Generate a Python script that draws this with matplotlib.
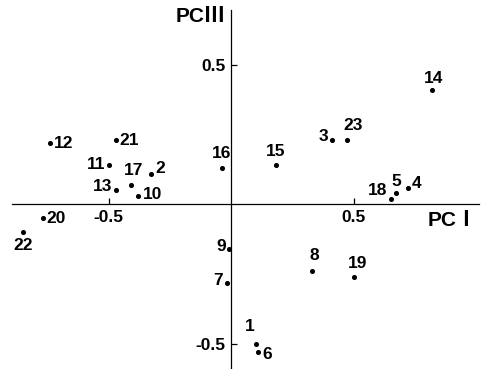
import matplotlib
matplotlib.use("Agg")
import matplotlib.pyplot as plt

plt.rcParams['font.family'] = ['Liberation Sans Narrow', 'Liberation Sans', 'Noto Sans CJK JP', 'DejaVu Sans']

# sample scores on PC I / PC III
labels = ['1', '2', '3', '4', '5', '6', '7', '8', '9', '10', '11', '12',
          '13', '14', '15', '16', '17', '18', '19', '20', '21', '22', '23']
pc1 = [0.10, -0.33, 0.41, 0.72, 0.67, 0.11, -0.02, 0.33, -0.01, -0.38, -0.50, -0.74,
       -0.47, 0.82, 0.18, -0.04, -0.41, 0.65, 0.50, -0.77, -0.47, -0.85, 0.47]
pc3 = [-0.50, 0.11, 0.23, 0.06, 0.04, -0.53, -0.28, -0.24, -0.16, 0.03, 0.14, 0.22,
       0.05, 0.41, 0.14, 0.13, 0.07, 0.02, -0.26, -0.05, 0.23, -0.10, 0.23]

# label placement: (dx px, dy px, ha)
place = {
    '1': (-6, 17, 'center'), '2': (5, 5, 'left'), '3': (-4, 4, 'right'),
    '4': (4, 4, 'left'), '5': (1, 12, 'center'), '6': (4, -2, 'left'),
    '7': (-4, 2, 'right'), '8': (2, 16, 'center'), '9': (-3, 3, 'right'),
    '10': (5, 2, 'left'), '11': (-3, 1, 'right'), '12': (4, 0, 'left'),
    '13': (-4, 4, 'right'), '14': (1, 12, 'center'), '15': (0, 14, 'center'),
    '16': (0, 15, 'center'), '17': (3, 14, 'center'), '18': (-3, 8, 'right'),
    '19': (4, 13, 'center'), '20': (4, 0, 'left'), '21': (3, 0, 'left'),
    '22': (0, -13, 'center'), '23': (6, 15, 'center'),
}

fig = plt.figure(figsize=(4.85, 3.69), dpi=100)
ax = fig.add_axes([12 / 485, 0, 467 / 485, 359 / 369])

ax.scatter(pc1, pc3, s=7, color='black', zorder=3)
for lab, x, y in zip(labels, pc1, pc3):
    dx, dy, ha = place[lab]
    ax.annotate(lab, (x, y), xytext=(dx * 0.72, dy * 0.72), textcoords='offset points',
                ha=ha, va='center', fontsize=12.5, fontweight='bold')

ax.set_xlim(-0.895, 1.01)
ax.set_ylim(-0.59, 0.697)

for s in ['top', 'right']:
    ax.spines[s].set_visible(False)
ax.spines['left'].set_position('zero')
ax.spines['bottom'].set_position('zero')
for s in ['left', 'bottom']:
    ax.spines[s].set_linewidth(0.9)

ax.set_xticks([-0.5, 0.5])
ax.set_xticklabels(['-0.5', '0.5'])
ax.set_yticks([-0.5, 0.5])
ax.set_yticklabels(['-0.5', '0.5'])
ax.tick_params(direction='in', length=4.5, width=0.9, labelsize=12.5, pad=4)
for t in ax.get_xticklabels() + ax.get_yticklabels():
    t.set_fontweight('bold')

fig.text(226 / 485, 1 - 16 / 369, 'PCⅢ', ha='right', va='center', fontsize=15, fontweight='bold')
fig.text(478 / 485, 1 - 220 / 369, 'PCⅠ', ha='right', va='center', fontsize=15, fontweight='bold')

fig.savefig('out.png', dpi=100)
